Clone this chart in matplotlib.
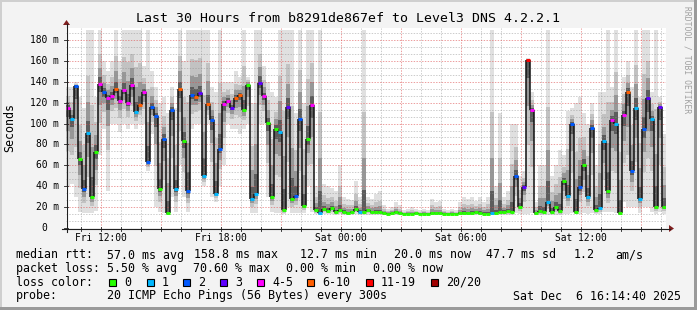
"""
SmokePing style latency chart: b8291de867ef -> Level3 DNS 4.2.2.1, last 30 hours.
Smoke bands (ping spread) + median line coloured by packet loss.
"""

import numpy as np
import matplotlib
matplotlib.use("Agg")
import matplotlib.pyplot as plt
from matplotlib.collections import LineCollection
from matplotlib.patches import Rectangle, Polygon

# time axis: hours since Fri 00:00, one sample every 12 minutes
T0 = 10.2444          # Fri 10:14:40
STEP = 0.2
YMAX = 191.5          # ms

# median rtt per sample (ms)
median_ms = [
    115, 104, 136, 66, 37, 91, 30, 73, 138, 130,
    124, 126, 133, 122, 132, 120, 137, 111, 118, 130,
    63, 116, 107, 37, 85, 14, 113, 37, 133, 83,
    35, 127, 125, 129, 50, 119, 103, 33, 76, 119,
    122, 115, 124, 127, 113, 137, 28, 33, 139, 126,
    101, 30, 95, 92, 17, 116, 28, 31, 104, 21,
    85, 118, 17, 14, 18, 16, 19, 15, 17, 15,
    14, 15, 18, 15, 15, 17, 15, 15, 15, 14,
    13.5, 14, 15, 14, 13.5, 13.5, 13.5, 14, 13.5, 13.5,
    13.5, 14, 14, 14, 13.5, 13.5, 13.5, 13.5, 14, 14,
    14, 14, 15, 14, 13.5, 13.5, 14, 14, 15, 15,
    16, 15, 50, 20, 39, 161, 113, 14, 16, 15,
    25, 15, 20, 16, 45, 31, 100, 15, 39, 60,
    30, 96, 17, 19, 83, 35, 103, 100, 14, 108,
    130, 55, 115, 28, 95, 124, 104, 20, 116, 20,
]
# lowest ping per sample (ms)
low_ms = [
    40, 42, 30, 15, 14, 14, 14, 16, 70, 95,
    35, 100, 100, 92, 100, 95, 100, 95, 100, 100,
    55, 90, 20, 15, 14, 12, 30, 15, 60, 30,
    15, 95, 100, 100, 40, 100, 30, 25, 40, 60,
    100, 95, 95, 90, 95, 100, 14, 14, 100, 100,
    30, 15, 14, 14, 13, 20, 14, 14, 14, 14,
    40, 15, 13, 12, 13, 13, 13, 12, 13, 12,
    12, 12, 13, 12, 12, 12, 12, 12, 12, 12,
    12, 12, 12, 12, 12, 12, 12, 12, 12, 12,
    12, 12, 12, 12, 12, 12, 12, 12, 12, 12,
    12, 12, 12, 12, 12, 12, 12, 12, 12, 12,
    12, 12, 14, 13, 13, 13, 14, 12, 12, 12,
    12, 12, 12, 12, 13, 13, 14, 13, 13, 14,
    13, 14, 13, 13, 15, 15, 15, 14, 12, 25,
    20, 20, 20, 14, 20, 20, 15, 13, 15, 13,
]
# highest ping per sample (ms)
high_ms = [
    135, 135, 140, 125, 115, 190, 190, 125, 190, 160,
    150, 160, 190, 160, 190, 190, 190, 190, 190, 155,
    190, 150, 135, 120, 125, 110, 135, 115, 190, 160,
    190, 190, 190, 190, 190, 190, 135, 130, 190, 140,
    140, 140, 150, 145, 190, 145, 120, 190, 190, 155,
    140, 130, 125, 190, 190, 190, 190, 110, 190, 120,
    190, 190, 40, 190, 42, 40, 38, 35, 60, 30,
    28, 27, 45, 30, 190, 30, 28, 33, 35, 22,
    18, 20, 25, 22, 17, 18, 20, 18, 17, 18,
    17, 28, 25, 26, 18, 17, 18, 17, 25, 30,
    28, 30, 26, 30, 25, 30, 190, 40, 110, 30,
    35, 100, 100, 50, 55, 163, 130, 25, 60, 60,
    190, 50, 60, 75, 70, 112, 115, 120, 125, 110,
    100, 120, 60, 130, 130, 190, 135, 190, 120, 145,
    160, 135, 190, 125, 190, 190, 130, 190, 125, 90,
]
# loss class per sample: 0 -> "0", 1 -> "1", 2 -> "2", 3 -> "3", 4 -> "4-5", 5 -> "6-10", 6 -> "11-19", 7 -> "20/20"
loss_class = [
    4, 1, 2, 0, 2, 1, 0, 0, 4, 2,
    4, 4, 5, 4, 4, 4, 4, 1, 5, 4,
    2, 2, 2, 0, 2, 0, 2, 1, 5, 0,
    2, 2, 5, 3, 1, 5, 2, 1, 2, 4,
    4, 3, 5, 5, 0, 0, 1, 1, 3, 4,
    0, 0, 0, 1, 0, 3, 0, 2, 2, 0,
    0, 4, 0, 1, 0, 0, 0, 0, 0, 0,
    0, 0, 0, 1, 0, 0, 0, 0, 0, 0,
    0, 0, 0, 0, 0, 0, 0, 0, 0, 0,
    0, 0, 0, 0, 0, 0, 0, 0, 0, 0,
    0, 0, 0, 0, 0, 0, 1, 0, 0, 0,
    0, 0, 2, 0, 3, 6, 4, 0, 0, 0,
    1, 0, 0, 0, 0, 1, 2, 0, 2, 0,
    1, 2, 0, 1, 1, 0, 4, 1, 0, 4,
    5, 2, 1, 1, 2, 3, 1, 0, 3, 0,
]

loss_colors = ["#26ff00", "#00b8ff", "#0059ff", "#5e00ff",
               "#ff00ff", "#ff5e00", "#ff0000", "#a10000"]
loss_labels = ["0", "1", "2", "3", "4-5", "6-10", "11-19", "20/20"]

hour_ticks  = [12, 18, 24, 30, 36]
hour_labels = ["Fri 12:00", "Fri 18:00", "Sat 00:00", "Sat 06:00", "Sat 12:00"]
ms_ticks    = [0, 20, 40, 60, 80, 100, 120, 140, 160, 180]

TITLE = "Last 30 Hours from b8291de867ef to Level3 DNS 4.2.2.1"

plt.rcParams["font.family"] = ["DejaVu Sans Mono"]

W, H = 697, 310
fig = plt.figure(figsize=(W / 100, H / 100), dpi=100, facecolor="#f3f3f3")

# plot canvas: x 66..666 px, y 28..228 px
PL, PR, PT, PB = 66, 666, 28, 228
ax = fig.add_axes([PL / W, (H - PB) / H, (PR - PL) / W, (PB - PT) / H])
ax.set_facecolor("white")
ax.set_xlim(T0, T0 + 30)
ax.set_ylim(0, YMAX)
ax.set_xticks([]); ax.set_yticks([])
for s in ax.spines.values():
    s.set_visible(False)

med = np.array(median_ms, dtype=float)
lo = np.array(low_ms, dtype=float)
hi = np.array(high_ms, dtype=float)
t = T0 + STEP * np.arange(len(med))

# smoke: outer spread light, getting darker toward the median
for frac, col in [(1.0, "#e0e0e0"), (0.55, "#c2c2c2"), (0.3, "#979797"), (0.12, "#5c5c5c")]:
    bot = med - frac * (med - lo)
    top = med + frac * (hi - med)
    ax.bar(t, top - bot, bottom=bot, width=STEP, align="edge",
           color=col, linewidth=0, zorder=1)

# grid (rrdtool style dotted)
dots = (0, (1.4, 1.4))
for h in range(11, 41):
    if h % 3 == 0:
        ax.axvline(h, color="#de5050", alpha=0.55, lw=0.72, ls=dots, zorder=2)
    else:
        ax.axvline(h, color="#8f8f8f", alpha=0.45, lw=0.72, ls=dots, zorder=2)
for k in range(1, 29):
    v = k * 20 / 3
    if k % 3 == 0:
        ax.axhline(v, color="#de5050", alpha=0.55, lw=0.72, ls=dots, zorder=2)
    else:
        ax.axhline(v, color="#8f8f8f", alpha=0.45, lw=0.72, ls=dots, zorder=2)

# median: black connectors, coloured steps by loss
vsegs = [((t[i], med[i - 1]), (t[i], med[i])) for i in range(1, len(med))]
ax.add_collection(LineCollection(vsegs, colors="#111111", linewidths=1.1, zorder=3))
hsegs = [((t[i], med[i]), (t[i] + STEP, med[i])) for i in range(len(med))]
ax.add_collection(LineCollection(hsegs, colors=[loss_colors[c] for c in loss_class],
                                 linewidths=2.1, zorder=4, capstyle="butt"))

# overlay in pixel coordinates for frame, axes, labels and legend
ov = fig.add_axes([0, 0, 1, 1], zorder=5)
ov.set_xlim(0, W); ov.set_ylim(H, 0)
ov.axis("off")
ov.patch.set_visible(False)

def px(h):
    return PL + (h - T0) * (PR - PL) / 30.0

def py(v):
    return PB - v * (PB - PT) / YMAX

# frame shading
ov.add_patch(Rectangle((0, 0), W, 2, color="#cfcfcf", lw=0))
ov.add_patch(Rectangle((0, 0), 2, H, color="#cfcfcf", lw=0))
ov.add_patch(Rectangle((W - 3, 0), 3, H, color="#9a9a9a", lw=0))
ov.add_patch(Rectangle((0, H - 3), W, 3, color="#9a9a9a", lw=0))

# axes with arrows
ov.plot([PL + 0.5, PL + 0.5], [PB + 4, PT - 4], color="#1f1f1f", lw=0.8)
ov.plot([PL - 4, PR + 4], [PB + 0.5, PB + 0.5], color="#1f1f1f", lw=0.8)
ov.add_patch(Polygon([[PL - 3, PT - 3], [PL + 4, PT - 3], [PL + 0.5, PT - 8]],
                     closed=True, color="#7f1f1f", lw=0))
ov.add_patch(Polygon([[PR + 3, PB - 3], [PR + 3, PB + 4], [PR + 8, PB + 0.5]],
                     closed=True, color="#7f1f1f", lw=0))
for h in range(11, 41):
    ov.plot([px(h), px(h)], [PB - 1, PB + 2.5], color="#1f1f1f", lw=0.6)
for v in ms_ticks:
    ov.plot([PL - 2, PL + 2], [py(v), py(v)], color="#1f1f1f", lw=0.6)

# tick labels
for h, lab in zip(hour_ticks, hour_labels):
    ov.text(px(h), 238, lab, fontsize=6.9, ha="center", va="center")
for v in ms_ticks:
    lab = "0" if v == 0 else f"{v} m"
    ov.text(47 if v == 0 else 59, py(v), lab, fontsize=6.9, ha="right", va="center")
ov.text(10, 127, "Seconds", fontsize=8.35, rotation=90, ha="center", va="center")

ov.text(348, 19, TITLE, fontsize=9.5, ha="center", va="center")
ov.text(687, 60, "RRDTOOL / TOBI OETIKER", fontsize=5.8, rotation=-90,
        ha="center", va="center", color="#a0a0a0")

# legend block
FS = 8.35
row1 = [(16, "median rtt:"), (107, "57.0 ms avg"), (194, "158.8 ms max"),
        (300, "12.7 ms min"), (394, "20.0 ms now"), (486, "47.7 ms sd"),
        (574, "1.2"), (615, "am/s")]
row2 = [(16, "packet loss:"), (107, "5.50 % avg"), (193, "70.60 % max"),
        (286, "0.00 % min"), (373, "0.00 % now")]
for x, s in row1:
    ov.text(x, 255, s, fontsize=FS, ha="left", va="center")
for x, s in row2:
    ov.text(x, 268.5, s, fontsize=FS, ha="left", va="center")

ov.text(16, 282, "loss color:", fontsize=FS, ha="left", va="center")
box_x = [109, 147, 183, 220, 257, 307, 366, 431]
for bx, col, lab in zip(box_x, loss_colors, loss_labels):
    ov.add_patch(Rectangle((bx, 278.5), 7, 7, facecolor=col, edgecolor="black", lw=0.8))
    ov.text(bx + 15, 282, lab, fontsize=FS, ha="left", va="center")

ov.text(16, 296, "probe:", fontsize=FS, ha="left", va="center")
ov.text(107, 296, "20 ICMP Echo Pings (56 Bytes) every 300s", fontsize=FS, ha="left", va="center")
ov.text(681, 296, "Sat Dec  6 16:14:40 2025", fontsize=FS, ha="right", va="center")

fig.savefig("out.png", dpi=100, facecolor=fig.get_facecolor())
